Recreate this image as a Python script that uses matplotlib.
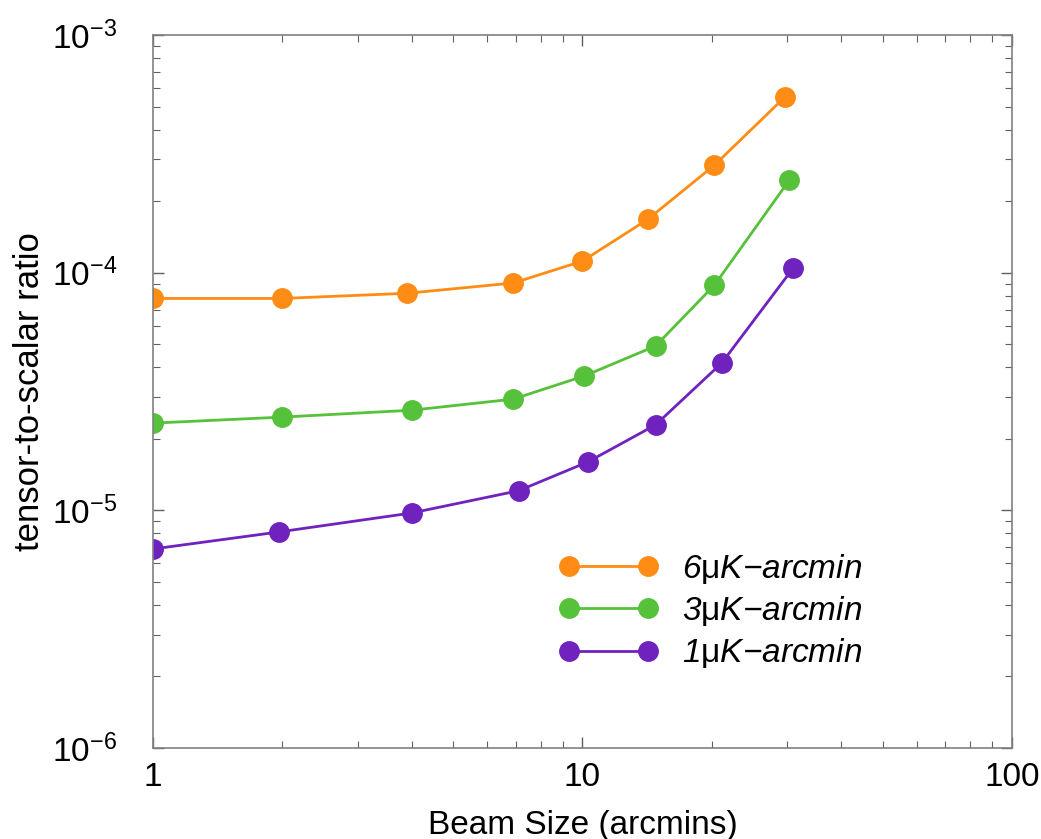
import numpy as np
import matplotlib
matplotlib.use("Agg")
import matplotlib.pyplot as plt
from matplotlib.ticker import LogLocator, NullFormatter

plt.rcParams['font.family'] = ['Liberation Sans', 'DejaVu Sans']
plt.rcParams['mathtext.fontset'] = 'custom'
plt.rcParams['mathtext.rm'] = 'Liberation Sans'
plt.rcParams['mathtext.it'] = 'Liberation Sans:italic'
plt.rcParams['mathtext.bf'] = 'Liberation Sans:bold'

# beam size (arcmin) and tensor-to-scalar ratio for each noise level
beam_6 = [1, 2, 3.9, 6.9, 10, 14.2, 20.3, 29.6]
r_6 = [7.8e-5, 7.8e-5, 8.2e-5, 9.06e-5, 1.12e-4, 1.68e-4, 2.84e-4, 5.49e-4]

beam_3 = [1, 2, 4, 6.9, 10.1, 14.8, 20.3, 30.3]
r_3 = [2.33e-5, 2.47e-5, 2.64e-5, 2.94e-5, 3.68e-5, 4.92e-5, 8.88e-5, 2.45e-4]

beam_1 = [1, 1.96, 4, 7.1, 10.3, 14.8, 21.1, 31]
r_1 = [6.88e-6, 8.11e-6, 9.75e-6, 1.21e-5, 1.60e-5, 2.29e-5, 4.17e-5, 1.05e-4]

# italic text, upright mu (through mathtext rm)
labels = [r'6$\mathrm{\mu}$K−arcmin',
          r'3$\mathrm{\mu}$K−arcmin',
          r'1$\mathrm{\mu}$K−arcmin']
colors = ['#FF8C14', '#56C13A', '#7022BE']

fig = plt.figure(figsize=(10.41, 8.39), dpi=100)
ax = fig.add_axes([0.147, 0.1085, 0.825, 0.8495])

for x, y, c, lab in zip([beam_6, beam_3, beam_1], [r_6, r_3, r_1], colors, labels):
    ax.plot(x, y, '-o', color=c, lw=2, ms=14, label=lab)

ax.set_xscale('log')
ax.set_yscale('log')
ax.set_xlim(1, 100)
ax.set_ylim(1e-6, 1e-3)

ax.xaxis.set_minor_locator(LogLocator(base=10, subs=np.arange(2, 10), numticks=20))
ax.yaxis.set_minor_locator(LogLocator(base=10, subs=np.arange(2, 10), numticks=20))
ax.xaxis.set_minor_formatter(NullFormatter())
ax.yaxis.set_minor_formatter(NullFormatter())
ax.set_xticks([1, 10, 100])
ax.set_xticklabels(['1', '10', '100'])

for s in ax.spines.values():
    s.set_color('#808080')
    s.set_linewidth(1.2)
ax.tick_params(which='both', direction='in', top=True, right=True, color='#606060')
ax.tick_params(which='major', length=8, width=1)
ax.tick_params(which='minor', length=5, width=0.8)
ax.tick_params(axis='x', which='major', labelsize=24, pad=10)
ax.tick_params(axis='y', which='major', labelsize=24, pad=26)

ax.set_xlabel('Beam Size (arcmins)', fontsize=24, labelpad=12)
ax.set_ylabel('tensor-to-scalar ratio', fontsize=25, labelpad=4)

ax.legend(loc='upper left', bbox_to_anchor=(0.537, 0.3425), bbox_transform=fig.transFigure,
          frameon=False, prop={'size': 24, 'style': 'italic'}, numpoints=2,
          handlelength=2.97, handletextpad=0.72,
          labelspacing=0.25, borderpad=0, borderaxespad=0)

fig.savefig('out.png', dpi=100)
